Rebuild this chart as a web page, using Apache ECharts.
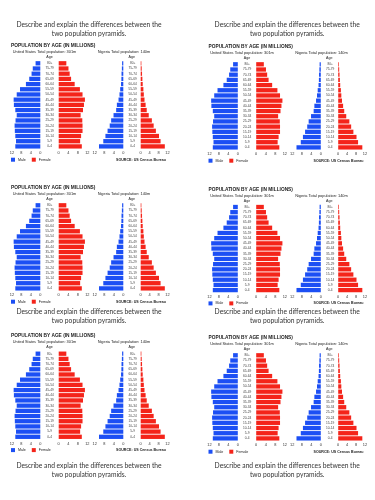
<!DOCTYPE html>
<html><head><meta charset="utf-8">
<script src="https://cdn.jsdelivr.net/npm/echarts@6/dist/echarts.min.js"></script>
<style>html,body{margin:0;padding:0;background:#fff}#c{width:375px;height:500px}</style>
</head><body><div id="c"></div>
<script>
const ages = ['80+','75-79','70-74','65-69','60-64','55-59','50-54','45-49','40-44','35-39','30-34','25-29','20-24','15-19','10-14','5-9','0-4'];
const usMale   = [2.0,3.2,3.7,4.7,6.1,8.6,10.0,11.3,11.2,10.6,10.0,10.5,10.9,10.8,10.6,10.3,10.6];
const usFemale = [3.2,4.1,4.6,5.2,6.7,8.9,10.0,11.0,10.6,10.2,9.2,9.9,10.0,10.0,9.4,9.0,9.7];
const ngMale   = [0.5,0.6,0.75,0.8,0.95,1.3,1.6,2.0,2.7,3.0,4.1,5.1,5.7,6.6,7.5,8.4,10.2];
const ngFemale = [0.3,0.45,0.6,0.75,0.9,1.2,1.4,1.7,2.2,2.7,3.6,5.0,5.8,6.8,8.2,8.9,10.8];
const xTicks = {min:0, max:12, interval:4};
const descLines = ['Describe and explain the differences between the','two population pyramids.'];
const chartTitle = 'POPULATION BY AGE (IN MILLIONS)';
const usTitle = 'United States Total population: 301m';
const ngTitle = 'Nigeria Total population: 140m';
const sourceText = 'SOURCE: US Census Bureau';
const legendNames = ['Male','Female'];

const BLUE = '#1c4ff4', RED = '#f4241a';
const chart = echarts.init(document.getElementById('c'), null, {renderer:'canvas'});
const grids=[], xAxes=[], yAxes=[], series=[], graphic=[], legends=[];
const gridTops = [[60.7,202.7,351.1],[61.7,204.4,352.7]];
const descYs = [[24.7,33.7],[311.8,320.7],[466,475.3]];
const GH = 88.3;
const sub = [
  {l:12, r:40.3, inv:true, data:usMale, color:BLUE, name:'Male', ages:true},
  {l:58.7, r:87.3, inv:false, data:usFemale, color:RED, name:'Female'},
  {l:94.7, r:123.3, inv:true, data:ngMale, color:BLUE, name:'Male', ages:true},
  {l:140.7, r:167.5, inv:false, data:ngFemale, color:RED, name:'Female'}
];
const F = 'Liberation Sans, Arial, sans-serif';
for (let col=0; col<2; col++) for (let row=0; row<3; row++) {
  const dx = col*197.5, top = gridTops[col][row];
  sub.forEach(s => {
    const gi = grids.length;
    grids.push({left:s.l+dx, width:s.r-s.l, top:top, height:GH});
    xAxes.push({type:'value', gridIndex:gi, min:xTicks.min, max:xTicks.max, interval:xTicks.interval, inverse:s.inv,
      axisLine:{show:false}, axisTick:{show:false}, splitLine:{show:false},
      axisLabel:{fontSize:3.9, color:'#333', margin:2.3, fontFamily:F}});
    yAxes.push({type:'category', gridIndex:gi, data:ages, inverse:true, position:'right',
      axisLine:{show:false}, axisTick:{show:false},
      axisLabel:{show:!!s.ages, interval:0, fontSize:3.2, color:'#444', align:'center', margin:9.3, fontFamily:F}});
    series.push({type:'bar', name:s.name, xAxisIndex:gi, yAxisIndex:gi, data:s.data, barWidth:4.3,
      itemStyle:{color:s.color}, silent:true, animation:false});
  });
  const cx = 89+dx + (col?0.7:0);
  descLines.forEach((t,i)=>graphic.push({type:'text', x:cx, y:descYs[row][i],
    style:{text:t, font:'6.7px Lato, sans-serif', fill:'#333', textAlign:'center', textVerticalAlign:'middle'}}));
  graphic.push({type:'text', x:11+dx, y:top-15.2, style:{text:chartTitle, font:'bold 4.8px '+F, fill:'#222', textAlign:'left', textVerticalAlign:'middle'}});
  graphic.push({type:'text', x:12.7+dx, y:top-8.8, style:{text:usTitle, font:'3.9px '+F, fill:'#222', textAlign:'left', textVerticalAlign:'middle'}});
  graphic.push({type:'text', x:97.7+dx, y:top-8.8, style:{text:ngTitle, font:'3.9px '+F, fill:'#222', textAlign:'left', textVerticalAlign:'middle'}});
  graphic.push({type:'text', x:49.5+dx, y:top-3.9, style:{text:'Age', font:'3.6px '+F, fill:'#222', textAlign:'center', textVerticalAlign:'middle'}});
  graphic.push({type:'text', x:131.7+dx, y:top-3.9, style:{text:'Age', font:'3.6px '+F, fill:'#222', textAlign:'center', textVerticalAlign:'middle'}});
  graphic.push({type:'text', x:166+dx, y:top+99, style:{text:sourceText, font:'bold 3.6px '+F, fill:'#222', textAlign:'right', textVerticalAlign:'middle'}});
  legends.push({data:legendNames, left:11+dx, top:top+97, padding:0, itemGap:6, itemWidth:4, itemHeight:4, icon:'rect',
    textStyle:{fontSize:3.6, color:'#222', fontFamily:F, padding:[0,0,0,-2]}, selectedMode:false});
}
chart.setOption({animation:false, grid:grids, xAxis:xAxes, yAxis:yAxes, series:series, graphic:graphic, legend:legends});
</script></body></html>
